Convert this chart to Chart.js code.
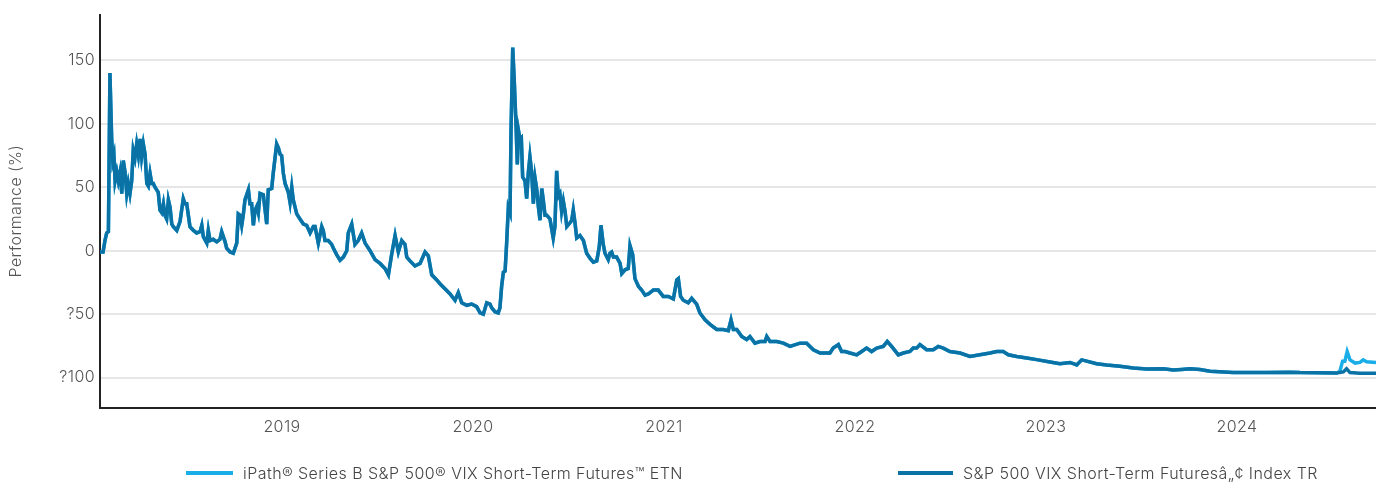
<!DOCTYPE html>
<html>
<head>
<meta charset="utf-8">
<script src="https://cdn.jsdelivr.net/npm/chart.js@4.4.0/dist/chart.umd.min.js"></script>
<style>
  html, body { margin: 0; padding: 0; background: #fff; }
  #wrap { position: relative; width: 1376px; height: 484px; overflow: hidden; }
  .leg { position: absolute; top: 463px; height: 20px; font: 300 16px Inter, "Open Sans", sans-serif; letter-spacing: 0.45px; color: #444; line-height: 20px; white-space: nowrap; }
  .leg i { position: absolute; top: 8px; height: 4px; display: block; }
</style>
</head>
<body>
<div id="wrap">
  <canvas id="chart" width="1376" height="484"></canvas>
  <div class="leg" style="left:186px"><i style="left:0;width:47px;background:#1aaee8"></i><span style="margin-left:57px">iPath® Series B S&amp;P 500® VIX Short-Term Futures™ ETN</span></div>
  <div class="leg" style="left:898px"><i style="left:0;width:55px;background:#0b72a6"></i><span style="margin-left:65px">S&amp;P 500 VIX Short-Term Futuresâ„¢ Index TR</span></div>
</div>
<script>
// dates as decimal years, values in %
const indexDates = [
  2018.047, 2018.063, 2018.073, 2018.082, 2018.091, 2018.099, 2018.108, 2018.114, 2018.120, 2018.126,
  2018.135, 2018.143, 2018.152, 2018.161, 2018.169, 2018.178, 2018.187, 2018.195, 2018.204, 2018.213,
  2018.221, 2018.230, 2018.239, 2018.248, 2018.257, 2018.265, 2018.274, 2018.283, 2018.292, 2018.300,
  2018.309, 2018.318, 2018.326, 2018.335, 2018.352, 2018.361, 2018.370, 2018.379, 2018.387, 2018.396,
  2018.405, 2018.414, 2018.423, 2018.431, 2018.449, 2018.466, 2018.483, 2018.492, 2018.501, 2018.518,
  2018.536, 2018.553, 2018.571, 2018.580, 2018.588, 2018.606, 2018.614, 2018.623, 2018.640, 2018.658,
  2018.675, 2018.684, 2018.702, 2018.710, 2018.728, 2018.745, 2018.754, 2018.763, 2018.771, 2018.780,
  2018.789, 2018.797, 2018.806, 2018.824, 2018.832, 2018.841, 2018.850, 2018.859, 2018.868, 2018.876,
  2018.885, 2018.902, 2018.920, 2018.928, 2018.946, 2018.954, 2018.972, 2018.981, 2018.990, 2018.998,
  2019.007, 2019.016, 2019.033, 2019.042, 2019.051, 2019.059, 2019.077, 2019.094, 2019.112, 2019.129,
  2019.147, 2019.164, 2019.173, 2019.190, 2019.208, 2019.216, 2019.225, 2019.242, 2019.260, 2019.269,
  2019.286, 2019.304, 2019.321, 2019.339, 2019.347, 2019.365, 2019.382, 2019.399, 2019.417, 2019.435,
  2019.461, 2019.487, 2019.513, 2019.539, 2019.557, 2019.574, 2019.592, 2019.609, 2019.627, 2019.644,
  2019.653, 2019.670, 2019.696, 2019.723, 2019.749, 2019.766, 2019.784, 2019.810, 2019.827, 2019.853,
  2019.880, 2019.906, 2019.923, 2019.941, 2019.967, 2019.993, 2020.019, 2020.037, 2020.054, 2020.072,
  2020.089, 2020.098, 2020.115, 2020.132, 2020.141, 2020.150, 2020.159, 2020.168, 2020.176, 2020.185,
  2020.194, 2020.199, 2020.208, 2020.216, 2020.225, 2020.232, 2020.239, 2020.246, 2020.253, 2020.260,
  2020.272, 2020.281, 2020.290, 2020.298, 2020.307, 2020.316, 2020.325, 2020.334, 2020.342, 2020.351,
  2020.360, 2020.368, 2020.377, 2020.386, 2020.403, 2020.420, 2020.429, 2020.438, 2020.447, 2020.455,
  2020.464, 2020.473, 2020.482, 2020.491, 2020.508, 2020.517, 2020.525, 2020.534, 2020.543, 2020.560,
  2020.578, 2020.595, 2020.613, 2020.630, 2020.648, 2020.661, 2020.670, 2020.682, 2020.691, 2020.708,
  2020.717, 2020.726, 2020.735, 2020.752, 2020.770, 2020.779, 2020.796, 2020.813, 2020.822, 2020.836,
  2020.848, 2020.866, 2020.883, 2020.901, 2020.918, 2020.927, 2020.944, 2020.970, 2020.996, 2021.023,
  2021.049, 2021.067, 2021.075, 2021.087, 2021.101, 2021.127, 2021.145, 2021.171, 2021.188, 2021.215,
  2021.241, 2021.276, 2021.310, 2021.337, 2021.351, 2021.363, 2021.381, 2021.407, 2021.433, 2021.450,
  2021.476, 2021.503, 2021.529, 2021.538, 2021.555, 2021.590, 2021.625, 2021.660, 2021.712, 2021.747,
  2021.782, 2021.817, 2021.869, 2021.886, 2021.913, 2021.930, 2021.948, 2021.974, 2022.009, 2022.035,
  2022.061, 2022.087, 2022.114, 2022.148, 2022.169, 2022.192, 2022.227, 2022.253, 2022.288, 2022.305,
  2022.323, 2022.340, 2022.375, 2022.410, 2022.436, 2022.462, 2022.497, 2022.550, 2022.602, 2022.654,
  2022.707, 2022.742, 2022.776, 2022.803, 2022.847, 2022.899, 2022.951, 2023.021, 2023.073, 2023.126,
  2023.161, 2023.187, 2023.213, 2023.265, 2023.318, 2023.387, 2023.457, 2023.527, 2023.614, 2023.666,
  2023.710, 2023.754, 2023.806, 2023.859, 2023.981, 2024.156, 2024.277, 2024.330, 2024.522, 2024.557,
  2024.574, 2024.592, 2024.644, 2024.728
];
const indexValues = [
  -1, -1, 8, 14, 15, 140, 89, 71, 75, 55,
  62, 55, 62, 45, 71, 62, 45, 53, 45, 55,
  79, 73, 84, 75, 88, 74, 84, 76, 53, 51,
  61, 53, 53, 50, 46, 32, 30, 37, 28, 25,
  40, 34, 21, 19, 16, 23, 41, 37, 37, 19,
  16, 14, 15, 20, 11, 6, 16, 8, 9, 7,
  9, 15, 7, 2, -1, -2, 2, 6, 29, 28,
  20, 28, 40, 48, 37, 37, 20, 32, 35, 30,
  45, 44, 21, 48, 49, 61, 84, 81, 76, 75,
  61, 53, 46, 38, 50, 40, 29, 25, 21, 20,
  14, 19, 19, 6, 19, 16, 8, 8, 5, 2,
  -3, -7.5, -5, 0, 14, 21, 5, 8, 14, 6,
  0, -7, -10, -14, -19, -3, 12, -1, 8, 5,
  -5, -8, -12, -10, -1, -4, -19, -23, -26, -30,
  -34, -39, -33, -41, -43, -42, -44, -49, -50, -41,
  -42, -45, -48, -49, -45, -28, -17, -16, 5.6, 34,
  30, 94, 160, 134, 100, 68, 94, 88, 89, 58,
  55, 41, 62, 74, 62, 37, 57, 48, 35, 24,
  49, 40, 28, 28, 25, 10, 19, 63, 43, 45,
  31, 39, 31, 19, 22, 24, 32, 22, 10, 12,
  8, -2, -6, -9, -8, 3, 20, 5, -2, -7,
  -2, -1, -5, -5, -10, -18, -15, -14, 4, -3,
  -22, -28, -31, -35, -34, -33, -31, -31, -36, -36,
  -38, -23, -22, -36, -39, -41, -37.5, -42, -49, -54.5,
  -58, -62, -62, -63, -54.5, -62, -62, -67.6, -70, -67.6,
  -72.8, -71.5, -71.5, -67.6, -71.5, -71.5, -72.8, -75.4, -72.8, -72.8,
  -78, -80.6, -80.6, -76.7, -74, -79.4, -79.4, -80.6, -82, -79.4,
  -76.7, -79.4, -76.7, -75.4, -71.5, -75.4, -82, -80.6, -79.4, -76.7,
  -76.7, -74, -78, -78, -75.4, -76.7, -79.4, -80.6, -83.3, -82,
  -80.6, -79.4, -79.4, -82, -83.3, -84.5, -85.8, -87.7, -89, -88,
  -90, -86, -87, -89, -90, -91, -92.4, -93.2, -93, -94,
  -93.5, -93, -93.5, -95, -96, -96, -95.7, -96, -96.3, -95.5,
  -93, -96, -96.5, -96.5
];
// the ETN follows the index until the August 2024 break
const etnSplitDate = 2024.53;
const etnTailDates = [2024.539, 2024.553, 2024.565, 2024.577, 2024.592, 2024.618, 2024.644, 2024.661, 2024.679, 2024.728];
const etnTailValues = [-95, -87, -87, -79.4, -86, -88.5, -88, -86, -87.5, -88];

const yearTicks = [2019, 2020, 2021, 2022, 2023, 2024];
const yTicks = [-100, -50, 0, 50, 100, 150];

const indexPoints = indexDates.map((d, i) => ({ x: d, y: indexValues[i] }));
const etnPoints = indexPoints.filter(p => p.x < etnSplitDate)
  .concat(etnTailDates.map((d, i) => ({ x: d, y: etnTailValues[i] })));

const font = { family: 'Inter, "Open Sans", sans-serif', size: 16, weight: '300' };

// wider tracking for the axis text
const spacing = {
  id: 'spacing',
  beforeDraw: c => { c.ctx.letterSpacing = '0.4px' }
};

new Chart(document.getElementById('chart'), {
  type: 'line',
  plugins: [spacing],
  data: {
    datasets: [
      {
        label: 'S&P 500 VIX Short-Term Futuresâ„¢ Index TR',
        data: indexPoints,
        borderColor: '#0b72a6',
        borderWidth: 3.5,
        pointRadius: 0,
        tension: 0
      },
      {
        label: 'iPath® Series B S&P 500® VIX Short-Term Futures™ ETN',
        data: etnPoints,
        borderColor: '#1aaee8',
        borderWidth: 3.5,
        pointRadius: 0,
        tension: 0
      }
    ]
  },
  options: {
    responsive: false,
    animation: false,
    layout: { padding: { top: 13, right: 0, left: 0, bottom: 0 } },
    plugins: { legend: { display: false }, tooltip: { enabled: false } },
    scales: {
      x: {
        type: 'linear',
        min: 2018.047,
        max: 2024.728,
        afterBuildTicks: s => { s.ticks = yearTicks.map(v => ({ value: v })) },
        afterFit: s => { s.height = 76.5 },
        grid: { display: false },
        border: { display: true, color: '#222', width: 2 },
        ticks: { font: font, color: '#555', padding: 2, maxRotation: 0, callback: v => String(v) }
      },
      y: {
        min: -123.5,
        max: 186,
        afterBuildTicks: s => { s.ticks = yTicks.map(v => ({ value: v })) },
        afterFit: s => { s.width = 100 },
        grid: { color: '#e6e6e6', lineWidth: 2, drawTicks: false },
        border: { display: true, color: '#222', width: 2 },
        ticks: { font: font, color: '#555', padding: 5, callback: v => v < 0 ? '?' + Math.abs(v) : String(v) },
        title: { display: true, text: 'Performance (%)', font: font, color: '#555', padding: { top: 7, bottom: 0 } }
      }
    }
  }
});
</script>
</body>
</html>
